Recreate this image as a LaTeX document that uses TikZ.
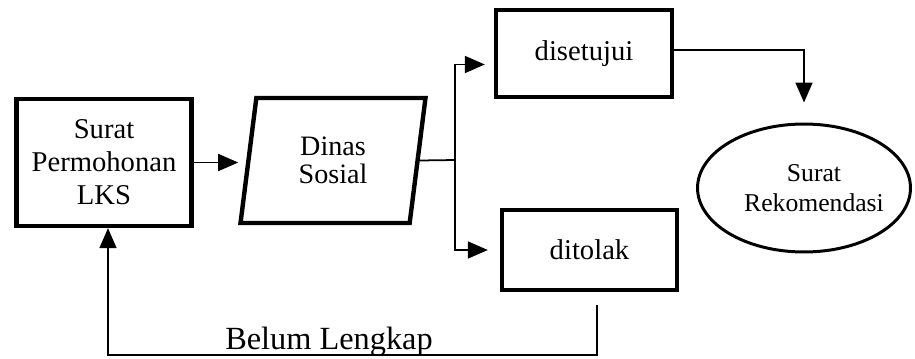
\documentclass[tikz,border=0pt]{standalone}
\usepackage{fontspec}
\setmainfont{Liberation Serif}
\usetikzlibrary{arrows.meta,shapes.geometric,positioning}
\tikzset{
  >={Triangle[length=0.4cm,width=0.34cm]},
  line join=miter,
  box/.style={draw, line width=2.5pt, minimum width=3.5cm, align=center, font=\fontsize{16.3}{18.8}\selectfont},
  iobox/.style={draw, line width=2.5pt, trapezium, trapezium left angle=75, trapezium right angle=105,
    trapezium stretches body, minimum width=3.7cm, minimum height=2.5cm, align=center,
    font=\fontsize{16}{16.2}\selectfont},
  endbox/.style={draw, ellipse, line width=1.7pt, minimum width=4.26cm, minimum height=2.56cm},
  endtext/.style={align=center, font=\fontsize{14.6}{17}\selectfont},
  arrow/.style={->, line width=1pt},
  line/.style={line width=1pt}
}
\begin{document}
\begin{tikzpicture}[x=0.02cm, y=-0.02cm]
  \useasboundingbox (0,0) rectangle (915,358);

  % process boxes
  \node[box, minimum height=2.54cm] (lks) at (104,162.5) {Surat\\Permohonan\\LKS};
  \node[iobox] (dinas) at (333,160.5) {Dinas\\Sosial};
  \node[box, minimum width=3.52cm, minimum height=1.74cm] (dis) at (584,53.5) {disetujui};
  \node[box, minimum width=3.5cm, minimum height=1.6cm] (tol) at (589.5,250) {ditolak};
  \node[endbox] (rek) at (804,188) {};
  \node[endtext] (rektext) at ([xshift=0.2cm]rek.center) {Surat\\Rekomendasi};

  \coordinate (br) at (455,160);
  \coordinate (loop) at (350,355);

  % connectors
  \draw[arrow, shorten >=0.16cm] (lks.east) -- (lks.east -| dinas.west);
  \draw[line] (dinas.east) -- (br);
  \draw[arrow, shorten >=0.18cm] (br) |- ([yshift=-0.22cm]dis.west);
  \draw[arrow, shorten >=0.24cm] (br) |- (tol.west);
  \draw[arrow, shorten >=0.4cm] ([yshift=0.07cm]dis.east) -| (rek.north);
  \draw[arrow, shorten <=0.26cm] ([xshift=0.15cm]tol.south) |- (loop) -| ([xshift=0.08cm]lks.south);

  \node[anchor=base, font=\fontsize{18.4}{20}\selectfont] (lbl) at (329,349) {Belum Lengkap};
\end{tikzpicture}
\end{document}
